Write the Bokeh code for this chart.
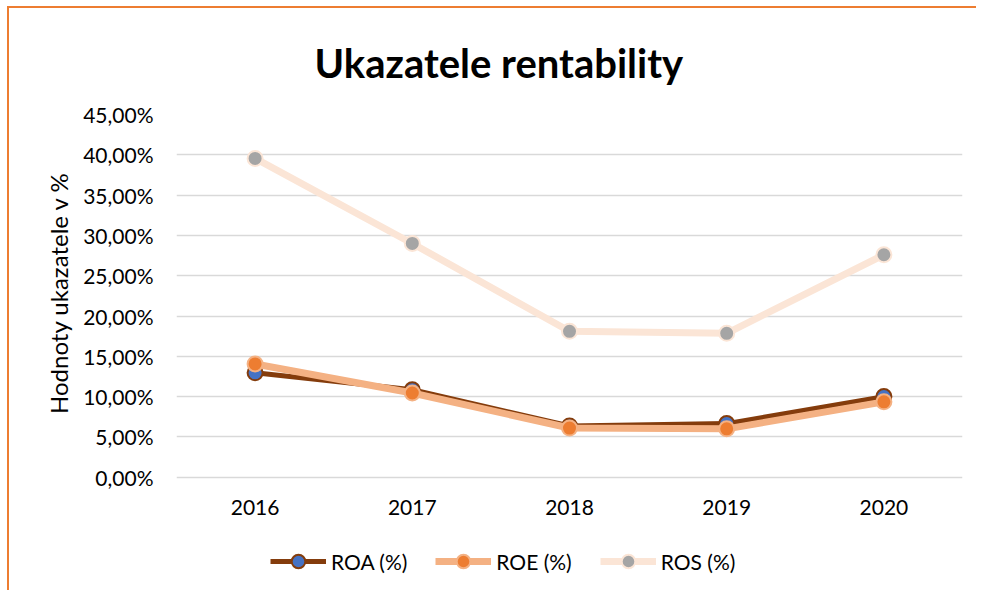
from bokeh.plotting import figure
from bokeh.models import FactorRange, Range1d, FixedTicker, Legend, LegendItem, Title
from bokeh.core.properties import value
from bokeh.embed import file_html
from bokeh.resources import INLINE

years = ["2016", "2017", "2018", "2019", "2020"]
roa = [12.95, 10.85, 6.35, 6.65, 10.0]
roe = [14.05, 10.45, 6.1, 6.0, 9.35]
ros = [39.55, 29.0, 18.1, 17.85, 27.6]
y_ticks = [0, 5, 10, 15, 20, 25, 30, 35, 40, 45]
y_tick_labels = ["0,00%", "5,00%", "10,00%", "15,00%", "20,00%", "25,00%",
                 "30,00%", "35,00%", "40,00%", "45,00%"]

FONT = "Lato"
Y_MIN = -13.56          # extra room below 0 % holds category labels and legend
LABEL_Y = -3.73         # vertical position of category labels (in % units)

p = figure(width=969, height=584, x_range=FactorRange(factors=years),
           y_range=Range1d(Y_MIN, 45), output_backend="svg", toolbar_location=None,
           min_border_left=167, min_border_right=16, min_border_top=0,
           min_border_bottom=6)
p.styles = {"border-top": "2px solid #ED7D31", "border-left": "2px solid #ED7D31",
            "margin-left": "7px", "margin-top": "6px"}
p.outline_line_color = None

p.title.text = "Ukazatele rentability"
p.title.text_font = FONT
p.title.text_font_style = "bold"
p.title.text_font_size = "40px"
p.title.text_color = "#000000"
p.title.align = "left"
p.title.offset = 138
p.title.standoff = 56

p.ygrid.grid_line_color = "#D9D9D9"
p.ygrid.grid_line_width = 1.5
p.xgrid.visible = False
p.xaxis.visible = False

p.yaxis.ticker = FixedTicker(ticks=y_ticks)
p.yaxis.major_label_overrides = {t: l for t, l in zip(y_ticks, y_tick_labels)}
p.yaxis.axis_line_color = None
p.yaxis.major_tick_line_color = None
p.yaxis.minor_tick_line_color = None
p.yaxis.major_label_standoff = 17
p.yaxis.major_label_text_font = FONT
p.yaxis.major_label_text_font_size = "21px"
p.yaxis.major_label_text_color = "#000000"

ylab = Title(text="Hodnoty ukazatele v %", text_font=FONT, text_font_size="24px",
             text_font_style="normal", text_color="#000000", align="right",
             offset=57, standoff=16)
p.add_layout(ylab, "left")

p.text(x=years, y=[LABEL_Y] * len(years), text=years, text_align="center",
       text_baseline="middle", text_font=value(FONT), text_font_size="21px",
       text_color="#000000")

series = [
    ("ROA (%)", roa, "#843C0C", "#4472C4", "#843C0C", 5),
    ("ROE (%)", roe, "#F4B183", "#ED7D31", "#F4B183", 7),
    ("ROS (%)", ros, "#FBE5D6", "#A5A5A5", "#FBE5D6", 7),
]
items = []
for name, vals, lc, mf, ml, lw in series:
    r1 = p.line(years, vals, line_color=lc, line_width=lw)
    r2 = p.scatter(years, vals, size=15, fill_color=mf, line_color=ml, line_width=2)
    items.append(LegendItem(label=name, renderers=[r1, r2]))

legend = Legend(items=items, orientation="horizontal", location=(94, 8),
                label_text_font=FONT, label_text_font_size="21px",
                label_text_color="#000000", padding=4,
                glyph_width=56, glyph_height=34, label_standoff=5, spacing=28,
                border_line_color=None, background_fill_alpha=0)
p.add_layout(legend, "center")

open("out.html", "w").write(file_html(p, INLINE))
